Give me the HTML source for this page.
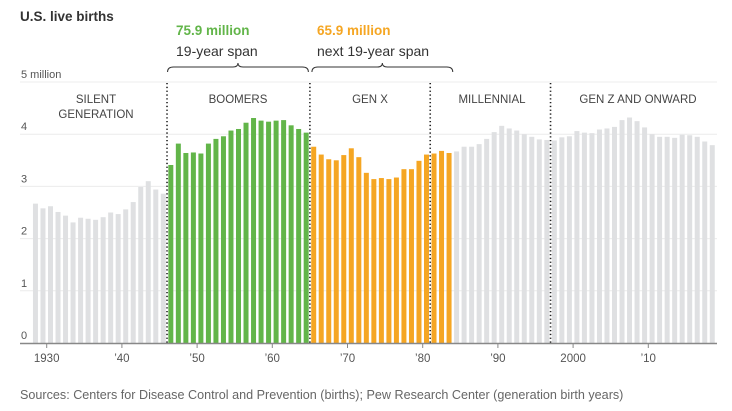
<!DOCTYPE html>
<html><head><meta charset="utf-8"><style>
body{margin:0;background:#fff;width:732px;height:411px;overflow:hidden;font-family:"Liberation Sans",sans-serif}
svg{display:block}
</style></head><body>
<svg id="chart" width="732" height="411">
<text x="20" y="21" font-size="13.5" font-weight="bold" fill="#333">U.S. live births</text>
<text x="176" y="35" font-size="13.5" font-weight="bold" fill="#62b549">75.9 million</text>
<text x="176" y="56" font-size="14" fill="#333">19-year span</text>
<text x="317" y="35" font-size="13.5" font-weight="bold" fill="#f5a623">65.9 million</text>
<text x="317" y="56" font-size="14" fill="#333">next 19-year span</text>
<g id="grid"></g><g id="bars"></g><g id="overlay"></g>
<text x="20" y="399" font-size="12.6" fill="#666">Sources: Centers for Disease Control and Prevention (births); Pew Research Center (generation birth years)</text>
</svg>
<script>
const years=[];for(let y=1928;y<=2018;y++)years.push(y);
const births=[2.67,2.58,2.62,2.51,2.44,2.31,2.40,2.38,2.36,2.41,2.50,2.47,2.56,2.70,2.99,3.10,2.94,2.86,
3.41,3.82,3.64,3.65,3.63,3.82,3.91,3.96,4.07,4.10,4.22,4.31,4.26,4.24,4.26,4.27,4.17,4.10,4.03,
3.76,3.61,3.52,3.50,3.60,3.73,3.56,3.26,3.14,3.16,3.14,3.17,3.33,3.33,3.49,3.61,3.63,3.68,3.64,
3.67,3.76,3.76,3.81,3.91,4.04,4.16,4.11,4.07,4.00,3.95,3.90,3.89,3.88,3.94,3.96,4.06,4.03,4.02,4.09,4.11,4.14,4.27,4.32,4.25,4.13,4.00,3.95,3.95,3.93,3.99,3.98,3.95,3.86,3.79];
const yTicks=[0,1,2,3,4,5];
const xTicks=[1930,1940,1950,1960,1970,1980,1990,2000,2010];
const xTickLabels=["1930","\u201940","\u201950","\u201960","\u201970","\u201980","\u201990","2000","\u201910"];
const dividers=[1946,1965,1981,1997];
const NS="http://www.w3.org/2000/svg";
const X=y=>46.7+7.52*(y-1930);
const Y=v=>343-52.2*v;
function mk(tag,attrs,parent,text){const e=document.createElementNS(NS,tag);for(const k in attrs)e.setAttribute(k,attrs[k]);if(text!=null)e.textContent=text;parent.appendChild(e);return e;}
const grid=document.getElementById('grid'),bars=document.getElementById('bars'),ov=document.getElementById('overlay');
yTicks.forEach(t=>{
 if(t>0){const l=mk('line',{x1:20,x2:717,y1:Y(t),y2:Y(t),stroke:'#ececec','stroke-width':1},grid);
 
 }
 const tx=mk('text',{x:21,y:Y(t)-4,'font-size':11,fill:'#555'},grid,t===5?'5 million':String(t));
 
 
});
years.forEach((yr,i)=>{
 let c='#dfe0e2';
 if(yr>=1946&&yr<=1964)c='#62b549';else if(yr>=1965&&yr<=1983)c='#f5a623';
 const r=mk('rect',{x:X(yr)+1.3,y:Y(births[i]),width:5,height:Y(0)-Y(births[i]),fill:c},bars);
 
 
});
const ax=mk('line',{x1:20,x2:717,y1:343.5,y2:343.5,stroke:'#888','stroke-width':1.5},ov);


xTicks.forEach((t,i)=>{
 mk('line',{x1:X(t),x2:X(t),y1:344,y2:348,stroke:'#888'},ov);
 const tx=mk('text',{x:X(t),y:362,'font-size':11.5,fill:'#555','text-anchor':'middle'},ov,xTickLabels[i]);
 
 
});
dividers.forEach(d=>{
 const l=mk('line',{x1:X(d),x2:X(d),y1:83,y2:343,stroke:'#222','stroke-width':1.6,'stroke-dasharray':'1.3 2.5'},ov);
 
 
});
const labels=[["SILENT",96,103],["GENERATION",96,118],["BOOMERS",238,103],["GEN X",370,103],["MILLENNIAL",492,103],["GEN Z AND ONWARD",638,103]];
labels.forEach(l=>{
 const t=mk('text',{x:l[1],y:l[2],'font-size':11.5,fill:'#444','text-anchor':'middle'},ov,l[0]);
 
 
});
function brace(x1,x2,name){
 const m=(x1+x2)/2,y=72;
 const p=mk('path',{d:`M${x1},${y} Q${x1},${y-5} ${x1+6},${y-5} L${m-5},${y-5} Q${m},${y-5} ${m},${y-9} Q${m},${y-5} ${m+5},${y-5} L${x2-6},${y-5} Q${x2},${y-5} ${x2},${y}`,fill:'none',stroke:'#333','stroke-width':1},ov);
 
 
}
brace(X(1946)+0.5,X(1965)-1.5,'boomers-brace');
brace(X(1965)+2,X(1984),'genx-brace');
</script>
</body></html>
